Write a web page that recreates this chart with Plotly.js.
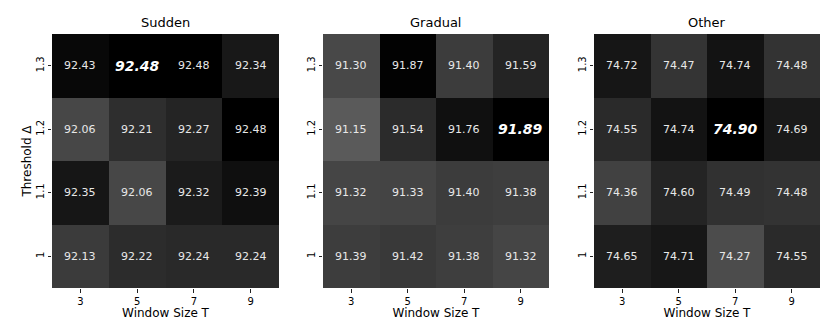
<!DOCTYPE html>
<html>
<head>
<meta charset="utf-8">
<script src="https://cdn.plot.ly/plotly-3.0.1.min.js"></script>
<style>body{margin:0;background:#fff}#chart{width:837px;height:324px}</style>
</head>
<body>
<div id="chart"></div>
<script>
var windowSizes = ['3', '5', '7', '9'];
var thresholds = ['1', '1.1', '1.2', '1.3'];

// rows go bottom to top: threshold 1, 1.1, 1.2, 1.3
var sudden = [
  [92.13, 92.22, 92.24, 92.24],
  [92.35, 92.06, 92.32, 92.39],
  [92.06, 92.21, 92.27, 92.48],
  [92.43, 92.48, 92.48, 92.34]
];
var gradual = [
  [91.39, 91.42, 91.38, 91.32],
  [91.32, 91.33, 91.40, 91.38],
  [91.15, 91.54, 91.76, 91.89],
  [91.30, 91.87, 91.40, 91.59]
];
var other = [
  [74.65, 74.71, 74.27, 74.55],
  [74.36, 74.60, 74.49, 74.48],
  [74.55, 74.74, 74.90, 74.69],
  [74.72, 74.47, 74.74, 74.48]
];
// cell that is shown in bold italic: [row, col]
var bestCell = [[3, 1], [2, 3], [2, 2]];

var panels = [
  {name: 'Sudden', z: sudden, low: '#474747'},
  {name: 'Gradual', z: gradual, low: '#5a5a5a'},
  {name: 'Other', z: other, low: '#4c4c4c'}
];
var domains = [[52/837, 279/837], [323/837, 549/837], [594/837, 820/837]];

var font = 'DejaVu Sans, sans-serif';
var data = [];
var annotations = [];
var layout = {
  width: 837, height: 324,
  margin: {l: 0, r: 0, t: 34, b: 36},
  paper_bgcolor: '#fff', plot_bgcolor: '#fff',
  font: {family: font, color: '#000', size: 10},
  showlegend: false
};

panels.forEach(function (p, i) {
  var n = i === 0 ? '' : String(i + 1);
  var flat = [].concat.apply([], p.z);
  data.push({
    type: 'heatmap',
    x: windowSizes, y: thresholds, z: p.z,
    xaxis: 'x' + n, yaxis: 'y' + n,
    zmin: Math.min.apply(null, flat), zmax: Math.max.apply(null, flat),
    colorscale: [[0, p.low], [1, '#000000']],
    showscale: false, hoverinfo: 'skip', xgap: 0, ygap: 0
  });
  layout['xaxis' + n] = {
    domain: domains[i], anchor: 'y' + n, range: [-0.5, 3.5],
    type: 'category', ticks: 'outside', ticklen: 3.5, tickcolor: '#222',
    tickfont: {size: 10}, showgrid: false, zeroline: false, showline: false,
    title: {text: 'Window Size T', font: {size: 12}, standoff: 2}
  };
  layout['yaxis' + n] = {
    domain: [0, 1], anchor: 'x' + n, range: [-0.5, 3.5],
    type: 'category', ticks: 'outside', ticklen: 3.5, tickcolor: '#222',
    tickfont: {size: 10}, tickangle: -90, showgrid: false, zeroline: false, showline: false,
    title: i === 0 ? {text: 'Threshold Δ', font: {size: 12}, standoff: 0} : {text: ''}
  };
  annotations.push({
    xref: 'paper', yref: 'paper',
    x: (domains[i][0] + domains[i][1]) / 2, y: 1, yshift: 2,
    xanchor: 'center', yanchor: 'bottom',
    text: p.name, showarrow: false, font: {size: 13}
  });
  p.z.forEach(function (row, r) {
    row.forEach(function (v, c) {
      var best = bestCell[i][0] === r && bestCell[i][1] === c;
      annotations.push({
        xref: 'x' + n, yref: 'y' + n,
        x: c, y: r, // category index of windowSizes[c], thresholds[r]
        text: best ? '<b><i>' + v.toFixed(2) + '</i></b>' : v.toFixed(2),
        showarrow: false,
        font: {size: best ? 14 : 11, color: best ? '#ffffff' : '#e8e8e8'}
      });
    });
  });
});

layout.annotations = annotations;
Plotly.newPlot('chart', data, layout, {displayModeBar: false, staticPlot: true});
</script>
</body>
</html>
